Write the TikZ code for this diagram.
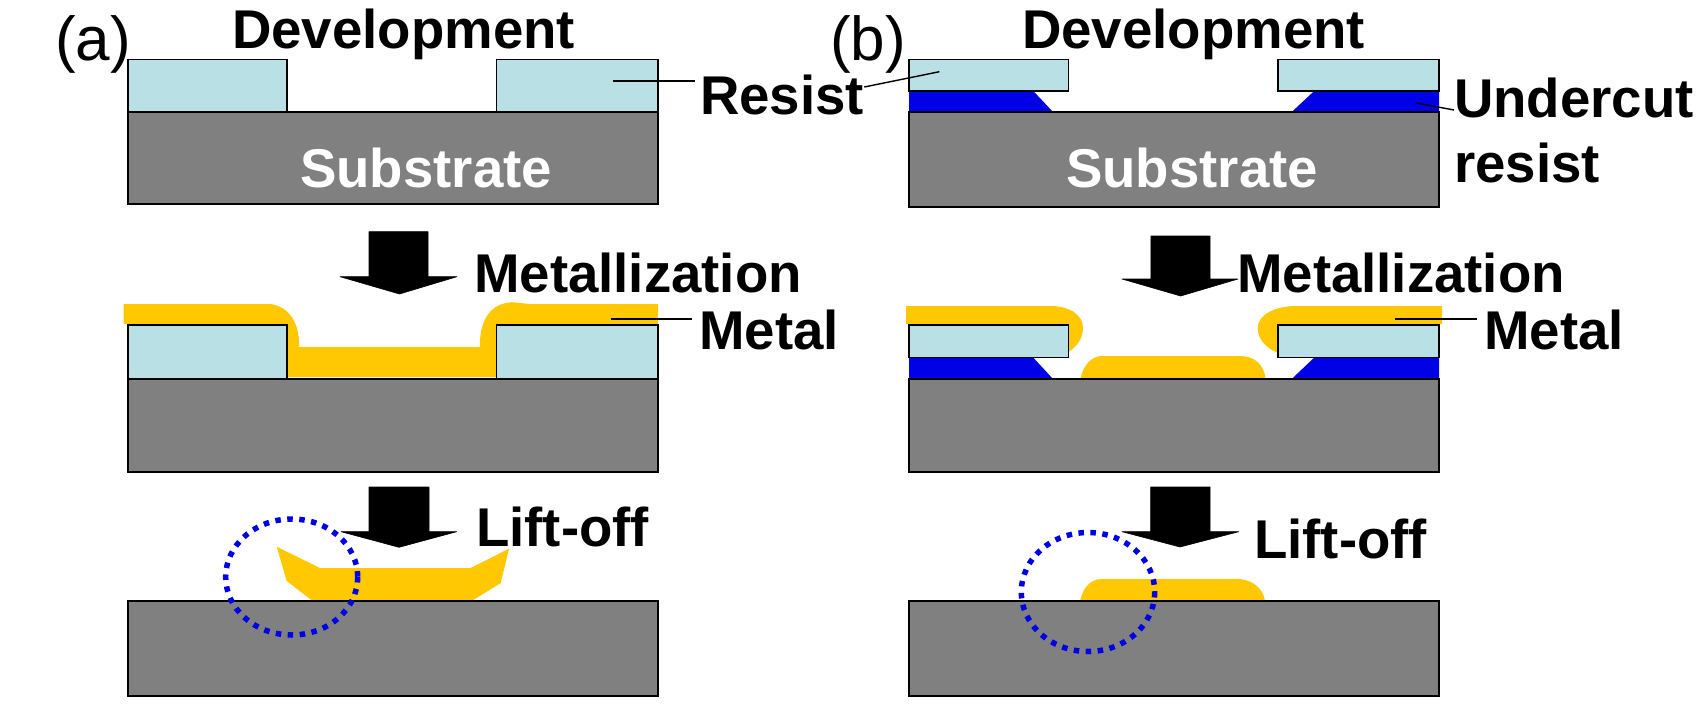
\documentclass[tikz,border=0pt]{standalone}
\usepackage{fontspec}
\setmainfont{Liberation Sans}
\usetikzlibrary{positioning}
\definecolor{resistcol}{RGB}{185,224,228}
\definecolor{subcol}{RGB}{128,128,128}
\definecolor{metalcol}{RGB}{255,200,0}
\definecolor{undercol}{RGB}{0,0,230}
\tikzset{
  subst/.style={draw=black,fill=subcol,line width=1.6pt},
  resist/.style={draw=black,fill=resistcol,line width=1.6pt},
  undercut/.style={fill=undercol},
  metal/.style={fill=metalcol},
  blockarrow/.style={fill=black,draw=black,line width=0.6pt,line join=round},
  ring/.style={draw=undercol,line width=5.5pt,dash pattern=on 5.5pt off 6.5pt},
  leader/.style={draw=black,line width=1.4pt},
  lab/.style={inner sep=0pt,anchor=base west,font=\fontsize{54.6}{60}\selectfont\bfseries},
  panel/.style={inner sep=0pt,anchor=base west,font=\fontsize{62}{66}\selectfont}
}
\begin{document}
\begin{tikzpicture}[x=1pt,y=-1pt]
  \useasboundingbox (0,0) rectangle (1700,728);

  \fill[metal] (123.6,304) -- (270,304) .. controls (288,306) and (300,322) .. (299,347)
        -- (480,347) .. controls (479,322) and (490,301) .. (515,302.5) -- (530,304) -- (658,304)
        -- (658,330) -- (496.5,330) -- (496.5,377) -- (287,377) -- (287,324) -- (123.6,324) -- cycle;
  \fill[metal] (906,306) -- (1050,306) .. controls (1070,306) and (1083,315) .. (1083,328)
        .. controls (1083,338) and (1077,347) .. (1068,352) -- (1068,324) -- (906,324) -- cycle;
  \fill[metal] (1442,306) -- (1296,306) .. controls (1275,306) and (1257.6,315) .. (1257.6,328)
        .. controls (1257.6,338) and (1265,348) .. (1278,353) -- (1278,324) -- (1442,324) -- cycle;
  \fill[metal] (1080.4,379) .. controls (1083,365) and (1092,356) .. (1102,356) -- (1240,356)
        .. controls (1255,356) and (1264,365) .. (1265.7,379) -- cycle;
  \fill[metal] (276.7,546.7) -- (320,568) -- (470.7,568) -- (509,548.7) -- (500.7,583)
        -- (471.7,601) -- (312.7,601) -- (286.7,581) -- cycle;
  \fill[metal] (1080,601) .. controls (1083,588) and (1090,579) .. (1102,579) -- (1230,579)
        .. controls (1250,577) and (1263,587) .. (1265,601) -- cycle;

  \fill[undercut] (909,90.7) -- (1033,90.7) -- (1053,112) -- (909,112) -- cycle;
  \fill[undercut] (1314.5,90.7) -- (1439,90.7) -- (1439,112) -- (1291.7,112) -- cycle;
  \fill[undercut] (909,357.3) -- (1033,357.3) -- (1053,379) -- (909,379) -- cycle;
  \fill[undercut] (1314.5,357.3) -- (1439,357.3) -- (1439,379) -- (1291.7,379) -- cycle;

  \draw[resist] (128,59.5) rectangle (287,112);
  \draw[resist] (496.5,59.5) rectangle (658,112);
  \draw[resist] (128,325) rectangle (287,379);
  \draw[resist] (496.5,325) rectangle (658,379);
  \draw[resist] (909,59.5) rectangle (1068.4,90.7);
  \draw[resist] (1278,59.5) rectangle (1439,90.7);
  \draw[resist] (909,325) rectangle (1068.4,357.3);
  \draw[resist] (1278,325) rectangle (1439,357.3);

  \draw[subst] (128,112) rectangle (658,204);
  \draw[subst] (128,379) rectangle (658,472);
  \draw[subst] (128,601) rectangle (658,696);
  \draw[subst] (909,112) rectangle (1439,206.7);
  \draw[subst] (909,379) rectangle (1439,472);
  \draw[subst] (909,601) rectangle (1439,696);

  \draw[blockarrow] (369,231.7) -- (428,231.7) -- (428,276.7) -- (457,276.7) -- (399.5,294)
        -- (340,276.7) -- (369,276.7) -- cycle;
  \draw[blockarrow] (369,487) -- (429,487) -- (429,531.7) -- (456.7,531.7) -- (399,547.3)
        -- (341,531.7) -- (369,531.7) -- cycle;
  \draw[blockarrow] (1150.8,236) -- (1210,236) -- (1210,279) -- (1238,279) -- (1180.6,296)
        -- (1122,279) -- (1150.8,279) -- cycle;
  \draw[blockarrow] (1150.7,487) -- (1210,487) -- (1210,531.7) -- (1238.7,531.7) -- (1180,547)
        -- (1122,531.7) -- (1150.7,531.7) -- cycle;

  \draw[ring] (291.7,577) ellipse [x radius=66,y radius=58];
  \draw[ring] (1088,592) ellipse [x radius=66.7,y radius=59.5];

  \node[panel] (tagA) at (55,60) {(a)};
  \node[panel] (tagB) at (830,60) {(b)};
  \node[lab] (devA) at (232,48) {Development};
  \node[lab] (devB) at (1022,48) {Development};
  \node[lab,text=white] (subA) at (300,187) {Substrate};
  \node[lab,text=white] (subB) at (1066,187) {Substrate};
  \node[lab] (metzA) at (474,292) {Metallization};
  \node[lab] (metzB) at (1237,292) {Metallization};
  \node[lab] (liftA) at (476,546) {Lift-off};
  \node[lab] (liftB) at (1254,558) {Lift-off};
  \node[lab] (resistA) at (700,114) {Resist};
  \node[lab] (metalA) at (699,349) {Metal};
  \node[lab] (metalB) at (1484,349) {Metal};
  \node[lab] (underB) at (1454,117) {Undercut};
  \node[lab] (underC) at (1454,182) {resist};

  \coordinate (resA) at (612.5,81);
  \coordinate (resB) at (939.4,71.7);
  \coordinate (resT) at (864,87);
  \coordinate (undB) at (1416.4,103);
  \coordinate (undT) at (1456,110);
  \coordinate (metA) at (611.4,319);
  \coordinate (metB) at (1394.7,319);

  \draw[leader,shorten >=5pt] (resA) -- (resistA.west |- resA);
  \draw[leader] (resB) -- (resistA.east |- resT);
  \draw[leader] (undB) -- (underB.west |- undT);
  \draw[leader,shorten >=7pt] (metA) -- (metalA.west |- metA);
  \draw[leader,shorten >=7pt] (metB) -- (metalB.west |- metB);
\end{tikzpicture}
\end{document}
